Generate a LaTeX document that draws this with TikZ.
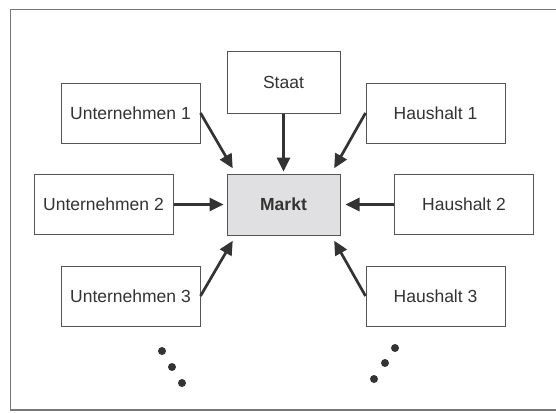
\documentclass[tikz,border=0pt]{standalone}
\usepackage{fontspec}
\setmainfont{Liberation Sans}
\definecolor{textgray}{RGB}{51, 51, 51}
\definecolor{framegray}{RGB}{120, 120, 120}
\definecolor{boxgray}{RGB}{85, 85, 85}
\definecolor{marktfill}{RGB}{224, 224, 226}
\usetikzlibrary{arrows.meta, positioning, calc}

\begin{document}
\begin{tikzpicture}[x=1pt, y=-1pt,
  actor/.style={draw=boxgray, line width=1pt, fill=white, text=textgray, minimum width=139pt, minimum height=60pt, inner sep=0pt, font=\fontsize{17.5}{20}\selectfont},
  center/.style={actor, fill=marktfill, minimum width=113pt, minimum height=61pt, font=\fontsize{17.5}{20}\selectfont\bfseries},
  flow/.style={draw=textgray, line width=2.7pt, -{Triangle[length=14pt, width=13pt]}}]
  \useasboundingbox (0, 0) rectangle (556, 412);

  % frame
  \draw[framegray, line width=1pt] (556, 10) -- (10, 10) -- (10, 410);
  \draw[framegray, line width=2pt] (10, 410) -- (556, 410);

  % Markt
  \node[center] (markt) at (283.5, 204.5) {Markt};

  % Staat
  \node[actor, minimum width=113pt, minimum height=61pt] (staat) at (283.5, 82.5) {Staat};

  % Unternehmen
  \node[actor] (unt1) at (130.5, 113) {Unternehmen 1};
  \node[actor] (unt2) at (103.5, 204.5) {Unternehmen 2};
  \node[actor] (unt3) at (130.5, 296) {Unternehmen 3};

  % Haushalte
  \node[actor] (hh1) at (435.5, 113) {Haushalt 1};
  \node[actor] (hh2) at (464, 204.5) {Haushalt 2};
  \node[actor] (hh3) at (435.5, 296) {Haushalt 3};

  % flows into the market
  \draw[flow, shorten >=6pt] (unt1.east) -- (markt.147);
  \draw[flow, shorten >=2pt] (staat.south) -- (markt.north);
  \draw[flow, shorten >=6pt] (hh1.west) -- (markt.33);
  \draw[flow, shorten >=3pt] (unt2.east) -- (markt.west);
  \draw[flow, shorten >=5pt] (hh2.west) -- (markt.east);
  \draw[flow, shorten >=6pt] (unt3.east) -- (markt.-147);
  \draw[flow, shorten >=6pt] (hh3.west) -- (markt.-33);

  % dots
  \foreach \p in {(162, 351), (172, 367), (182, 383), (395, 348), (385, 363), (374, 379)}
    \fill[textgray] \p circle (4pt);
\end{tikzpicture}
\end{document}
